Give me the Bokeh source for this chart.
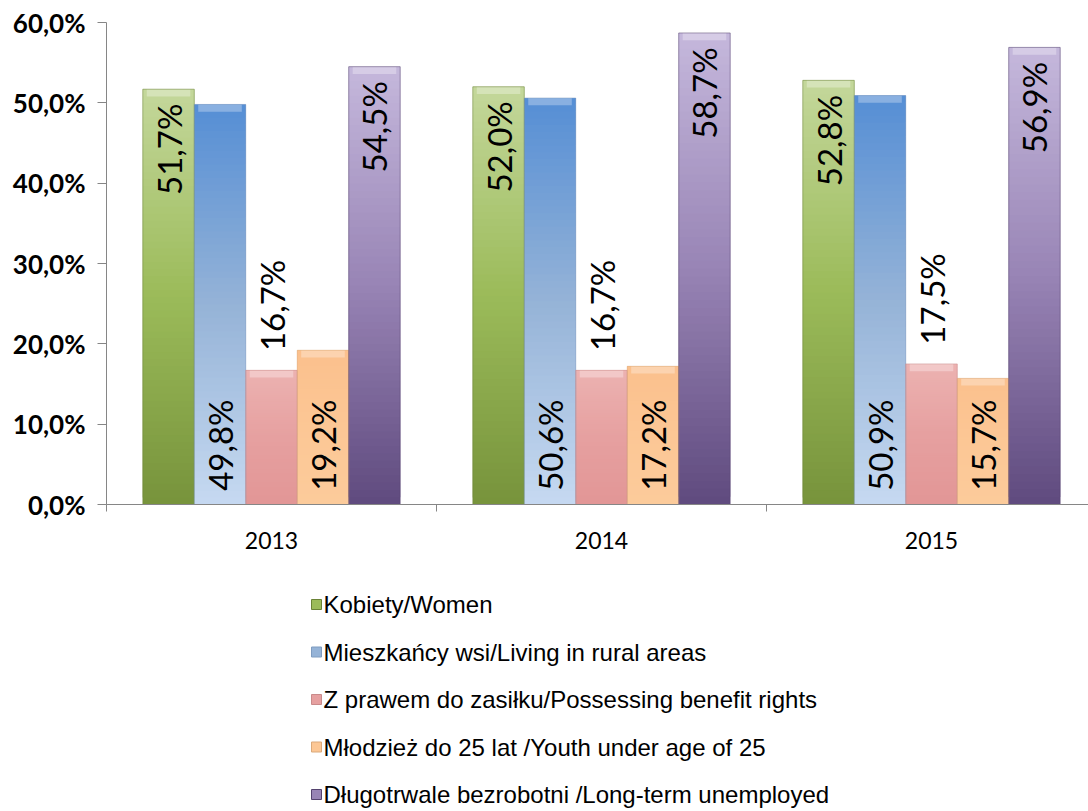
import math
from bokeh.plotting import figure
from bokeh.models import Range1d, FixedTicker
from bokeh.layouts import column
from bokeh.core.properties import value
from bokeh.embed import file_html
from bokeh.resources import INLINE

# ---------------- data ----------------
years = ["2013", "2014", "2015"]
series_names = [
    "Kobiety/Women",
    "Mieszkańcy wsi/Living in rural areas",
    "Z prawem do zasiłku/Possessing benefit rights",
    "Młodzież do 25 lat /Youth under age of 25",
    "Długotrwale bezrobotni /Long-term unemployed",
]
kobiety = [51.7, 52.0, 52.8]
mieszkancy_wsi = [49.8, 50.6, 50.9]
z_prawem_do_zasilku = [16.7, 16.7, 17.5]
mlodziez_do_25 = [19.2, 17.2, 15.7]
dlugotrwale_bezrobotni = [54.5, 58.7, 56.9]
y_ticks = [0, 10, 20, 30, 40, 50, 60]
y_tick_labels = ["0,0%", "10,0%", "20,0%", "30,0%", "40,0%", "50,0%", "60,0%"]

all_series = [kobiety, mieszkancy_wsi, z_prawem_do_zasilku, mlodziez_do_25, dlugotrwale_bezrobotni]

# ---------------- styles ----------------
# gradient stops bottom -> top
grad_stops = [
    ["#77933c", "#9bbb59", "#c4d79b"],
    ["#c6d9f1", "#95b3d7", "#558ed5"],
    ["#e29696", "#e6a0a0", "#ecb2b1"],
    ["#fccb9b", "#fcc795", "#fbc08d"],
    ["#5f4a7e", "#9884b5", "#c5b8dc"],
]
edge_colors = ["#6a8236", "#7f9cc0", "#c98a8a", "#dba97a", "#54426e"]
label_pos = ["top_in", "base_in", "above", "base_in", "top_in"]


def hex2rgb(h):
    h = h.lstrip("#")
    return tuple(int(h[i:i + 2], 16) for i in (0, 2, 4))


def rgb2hex(c):
    return "#%02x%02x%02x" % tuple(max(0, min(255, int(round(v)))) for v in c)


def interp(stops, t):
    n = len(stops) - 1
    pos = t * n
    k = min(int(pos), n - 1)
    f = pos - k
    a, b = hex2rgb(stops[k]), hex2rgb(stops[k + 1])
    return rgb2hex([a[i] + (b[i] - a[i]) * f for i in range(3)])


CW = 1088
MAIN_H = 575
LEG_H = 236
LEFT = 106
CAT_PX = 330.0

p = figure(width=CW, height=MAIN_H, output_backend="svg", toolbar_location=None,
           x_range=Range1d(0, (CW - LEFT) / CAT_PX), y_range=Range1d(0, 60),
           min_border_left=LEFT, min_border_right=0, min_border_top=22,
           min_border_bottom=MAIN_H - 504)
p.outline_line_color = None
p.xgrid.visible = False
p.ygrid.visible = False
p.background_fill_color = "white"

bw = 0.156
N = 60
lefts, rights, bottoms, tops, colors = [], [], [], [], []
ol, orr, ot, oc = [], [], [], []
for j, vals in enumerate(all_series):
    for i, v in enumerate(vals):
        xc = i + 0.5 + (j - 2) * bw
        for k in range(N):
            lefts.append(xc - bw / 2)
            rights.append(xc + bw / 2)
            bottoms.append(v * k / N)
            tops.append(min(v, v * (k + 2.0) / N))
            colors.append(interp(grad_stops[j], (k + 0.5) / N))
        ol.append(xc - bw / 2)
        orr.append(xc + bw / 2)
        ot.append(v)
        oc.append(edge_colors[j])

p.quad(left=lefts, right=rights, bottom=bottoms, top=tops,
       fill_color=colors, line_color=None)
# bevel highlight on top
p.quad(left=[l + 0.012 for l in ol], right=[r - 0.012 for r in orr],
       bottom=[t - 0.9 for t in ot], top=ot,
       fill_color="white", fill_alpha=0.3, line_color=None)
# outlines
p.quad(left=ol, right=orr, bottom=[0] * len(ot), top=ot,
       fill_color=None, line_color=oc, line_alpha=0.5, line_width=1)

# value labels
for j, vals in enumerate(all_series):
    xs, ys, txt = [], [], []
    for i, v in enumerate(vals):
        xc = i + 0.5 + (j - 2) * bw
        xs.append(xc)
        txt.append(("%.1f" % v).replace(".", ",") + "%")
        if label_pos[j] == "top_in":
            ys.append(v - 1.8)
        elif label_pos[j] == "base_in":
            ys.append(1.7)
        else:
            ys.append(v + 2.4)
    align = "right" if label_pos[j] == "top_in" else "left"
    p.text(x=xs, y=ys, text=txt, angle=math.pi / 2, text_align=align,
           text_baseline="middle", text_font=value("Lato"),
           text_font_size="33px", text_color="black")

# y axis
p.yaxis.ticker = FixedTicker(ticks=y_ticks)
p.yaxis.major_label_overrides = {t: l for t, l in zip(y_ticks, y_tick_labels)}
p.yaxis.major_label_text_font = "Lato"
p.yaxis.major_label_text_font_style = "bold"
p.yaxis.major_label_text_font_size = "26px"
p.yaxis.major_label_text_color = "black"
p.yaxis.axis_line_color = "#868686"
p.yaxis.major_tick_line_color = "#868686"
p.yaxis.major_tick_out = 9
p.yaxis.major_tick_in = 0
p.yaxis.minor_tick_line_color = None
p.yaxis.major_label_standoff = 12

# x axis
centers = [i + 0.5 for i in range(len(years))]
p.xaxis.ticker = FixedTicker(ticks=centers, minor_ticks=list(range(len(years) + 1)))
p.xaxis.major_label_overrides = {c: y for c, y in zip(centers, years)}
p.xaxis.major_label_text_font = "Lato"
p.xaxis.major_label_text_font_size = "23px"
p.xaxis.major_label_text_color = "black"
p.xaxis.axis_line_color = "#868686"
p.xaxis.major_tick_line_color = None
p.xaxis.major_tick_out = 0
p.xaxis.major_tick_in = 0
p.xaxis.minor_tick_line_color = "#868686"
p.xaxis.minor_tick_out = 7
p.xaxis.minor_tick_in = 0
p.xaxis.major_label_standoff = 20

# legend figure (frame aligned with main figure; data x == canvas x)
lg = figure(width=CW, height=LEG_H, output_backend="svg", toolbar_location=None,
            x_range=Range1d(LEFT, CW), y_range=Range1d(LEG_H, 0),
            x_axis_location=None, y_axis_location=None, min_border=0,
            min_border_left=LEFT, min_border_right=0)
lg.outline_line_color = None
lg.xgrid.visible = False
lg.ygrid.visible = False
ly = [29 + 47.5 * i for i in range(len(series_names))]
lg.rect(x=[316] * len(ly), y=ly, width=10, height=10,
        fill_color=[s[1] for s in grad_stops], line_color=edge_colors, line_width=1)
lg.text(x=[323] * len(ly), y=ly, text=series_names, text_baseline="middle",
        text_font=value("Liberation Sans"), text_font_size="24px", text_color="black")

layout = column(p, lg, spacing=0)
open("out.html", "w").write(file_html(layout, INLINE))
